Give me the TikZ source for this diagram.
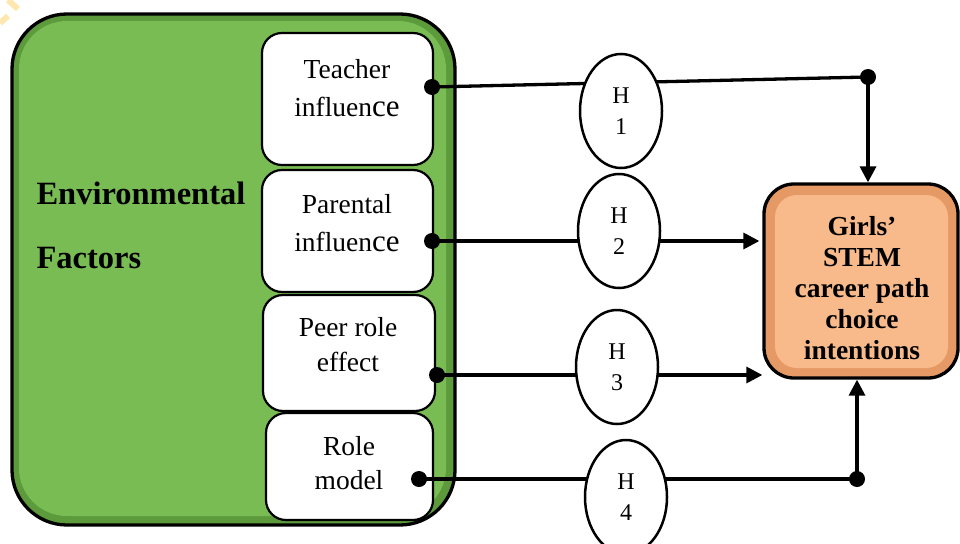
\documentclass[tikz,border=0pt]{standalone}
\usepackage{fontspec}
\setmainfont{Liberation Serif}
\usetikzlibrary{arrows.meta,shapes.geometric}
\definecolor{gout}{HTML}{5C9A3C}
\definecolor{gin}{HTML}{79BC54}
\definecolor{oout}{HTML}{E59A66}
\definecolor{oin}{HTML}{F8BA8A}
\definecolor{wmark}{HTML}{FFE7B0}
\begin{document}
\begin{tikzpicture}[x=1pt,y=-1pt,
  factor/.style={draw=black,line width=2.2pt,rounded corners=20pt,fill=white,inner sep=0pt},
  hyp/.style={ellipse,draw=black,line width=2.5pt,fill=white,minimum width=82pt,minimum height=114pt,inner sep=0pt,align=center,font=\fontsize{24}{31}\selectfont},
  conn/.style={line width=3.3pt},
  arr/.style={conn,-{Triangle[length=16pt,width=16pt]}},
  dotmark/.style={circle,fill=black,inner sep=0pt,minimum size=16pt},
  lbl/.style={align=center,font=\fontsize{27.5}{38}\selectfont},
]
\useasboundingbox (0,0) rectangle (960,543);
% watermark fragment
\draw[wmark,line width=6pt] (0,23) -- (8,16);
\draw[wmark,line width=6pt] (8,0) -- (18,9);
% green container
\draw[line width=3.3pt,fill=gout,rounded corners=55pt] (12,14) rectangle (455,525);
\fill[gin,rounded corners=48pt] (19,21) rectangle (446,516);
\node[anchor=west,align=left,font=\bfseries\fontsize{32.5}{64}\selectfont] (env) at (33,225) {Environmental\\Factors};
% factor boxes
\node[factor,minimum width=171pt,minimum height=132pt] (teacher) at (347.5,99) {};
\node[factor,minimum width=171pt,minimum height=122pt] (parent) at (347.5,231) {};
\node[factor,minimum width=172pt,minimum height=116pt] (peer) at (349,353) {};
\node[factor,minimum width=167pt,minimum height=107pt] (role) at (349.5,466.5) {};
\node[lbl] (tt) at (347,88) {Teacher\\influen{\fontsize{31}{38}\selectfont ce}};
\node[lbl] (pt) at (347,223) {Parental\\influen{\fontsize{31}{38}\selectfont ce}};
\node[lbl,font=\fontsize{27.5}{35}\selectfont] (et) at (348,345) {Peer role\\effect};
\node[lbl,font=\fontsize{27.5}{34}\selectfont] (rt) at (349,463) {Role\\model};
% outcome box
\node[draw=black,line width=3.3pt,rounded corners=30pt,fill=oout,minimum width=194pt,minimum height=194pt] (goal) at (861,281) {};
\fill[oin,rounded corners=22pt] (775,195) rectangle (948,368);
\node[align=center,font=\bfseries\fontsize{27.5}{31}\selectfont] (gt) at (862,288) {Girls’\\STEM\\career path\\choice\\intentions};
% connector points
\coordinate (t1) at (432,87);
\coordinate (c1) at (868,77);
\coordinate (p1) at (432,241);
\coordinate (r1) at (437,375);
\coordinate (m1) at (419,479);
\coordinate (c4) at (857,479);
\draw[conn] (t1) -- (c1);
\draw[arr] (c1) -- (c1 |- goal.north);
\draw[arr,shorten >=3pt] (p1) -- (p1 -| goal.west);
\draw[arr] (r1) -- (r1 -| goal.west);
\draw[conn] (m1) -- (c4);
\draw[arr] (c4) -- (c4 |- goal.south);
% hypotheses
\node[hyp] (H1) at (621,111) {H\\1};
\node[hyp] (H2) at (619,231) {H\\2};
\node[hyp] (H3) at (617,367) {H\\3};
\node[hyp] (H4) at (626,497) {H\\4};
% dots
\node[dotmark] at (t1) {};
\node[dotmark] at (c1) {};
\node[dotmark] at (p1) {};
\node[dotmark] at (r1) {};
\node[dotmark] at (m1) {};
\node[dotmark] at (c4) {};
\end{tikzpicture}
\end{document}
